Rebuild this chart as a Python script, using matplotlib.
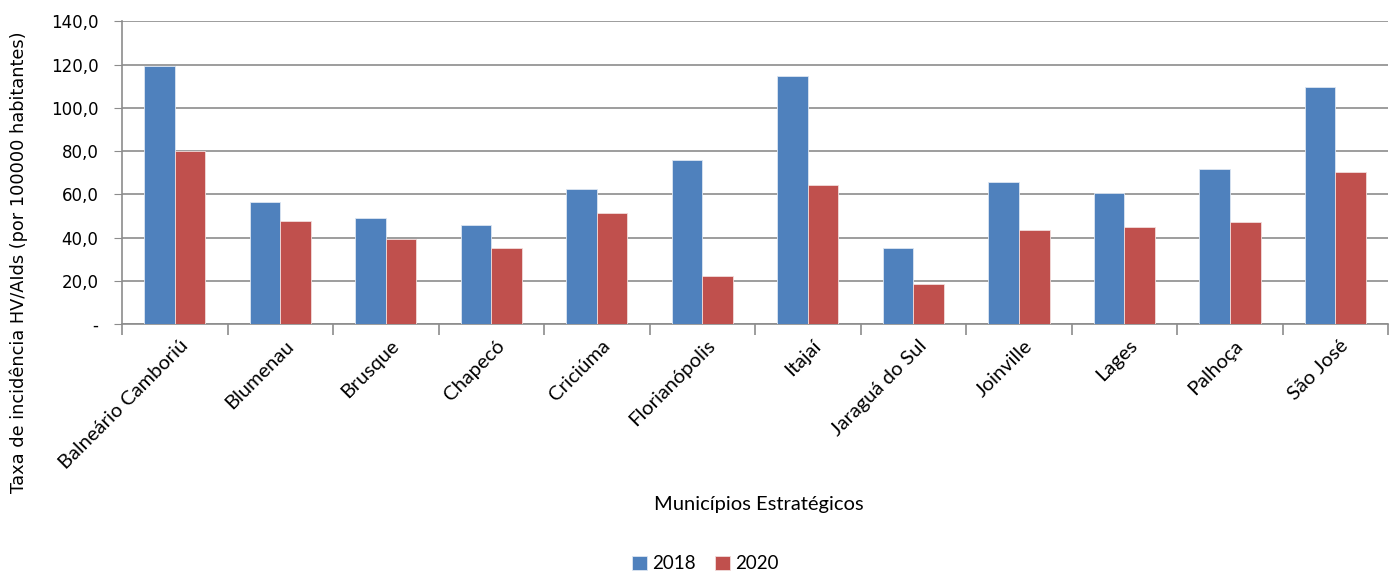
import numpy as np
import matplotlib.pyplot as plt
from matplotlib.ticker import FuncFormatter

municipios = ['Balneário Camboriú', 'Blumenau', 'Brusque', 'Chapecó', 'Criciúma',
              'Florianópolis', 'Itajaí', 'Jaraguá do Sul', 'Joinville', 'Lages',
              'Palhoça', 'São José']
taxa_2018 = [119.5, 56.6, 49.2, 46.0, 62.6, 75.7, 114.6, 35.0, 65.9, 60.8, 71.6, 109.8]
taxa_2020 = [80.0, 47.7, 39.3, 35.0, 51.5, 22.1, 64.5, 18.7, 43.5, 45.0, 47.3, 70.5]

azul = '#4F81BD'
vermelho = '#C0504D'
cinza = '#8C8C8C'
fonte_cat = 'Lato'

fig = plt.figure(figsize=(13.91, 5.73), dpi=100)
ax = fig.add_axes([0.0877, 0.4346, 0.9103, 0.528])

x = np.arange(len(municipios))
w = 0.29
ax.bar(x - w / 2, taxa_2018, w, color=azul, edgecolor='#DCE6F2', linewidth=0.6, label='2018', zorder=3)
ax.bar(x + w / 2, taxa_2020, w, color=vermelho, edgecolor='#F2DCDB', linewidth=0.6, label='2020', zorder=3)

ax.set_xlim(-0.5, len(municipios) - 0.5)
ax.set_ylim(0, 140)
ax.set_yticks(np.arange(0, 141, 20))
ax.yaxis.set_major_formatter(FuncFormatter(lambda v, p: '-' if v == 0 else f'{v:.1f}'.replace('.', ',')))
ax.tick_params(axis='y', length=6, color=cinza, labelsize=12, pad=11)
ax.grid(axis='y', color=cinza, linewidth=1.2, zorder=0)

# category labels centred on groups, tick marks on boundaries
ax.set_xticks(np.arange(-0.5, len(municipios), 1))
ax.set_xticklabels([])
ax.tick_params(axis='x', length=8, color=cinza, width=1.2)
for i, nome in enumerate(municipios):
    ax.text(i + 0.04, -6, nome, rotation=45, ha='right', va='top', rotation_mode='anchor',
            fontsize=14.5, family=fonte_cat, color='black')

for lado in ['top', 'right']:
    ax.spines[lado].set_visible(False)
for lado in ['left', 'bottom']:
    ax.spines[lado].set_color(cinza)
    ax.spines[lado].set_linewidth(1.2)

ax.set_ylabel('Taxa de incidência HV/AIds (por 100000 habitantes)', fontsize=12.8)
ax.yaxis.set_label_coords(-0.074, 0.205)

fig.text(0.5457, 0.119, 'Municípios Estratégicos', ha='center', va='center',
         fontsize=14.5, family=fonte_cat, color='black')

fig.legend(loc='center', bbox_to_anchor=(0.507, 0.016), ncol=2, frameon=False,
           prop={'family': fonte_cat, 'size': 13.5}, handlelength=0.8, handleheight=0.8,
           handletextpad=0.3, columnspacing=1.0)

fig.savefig('out.png', dpi=100)
